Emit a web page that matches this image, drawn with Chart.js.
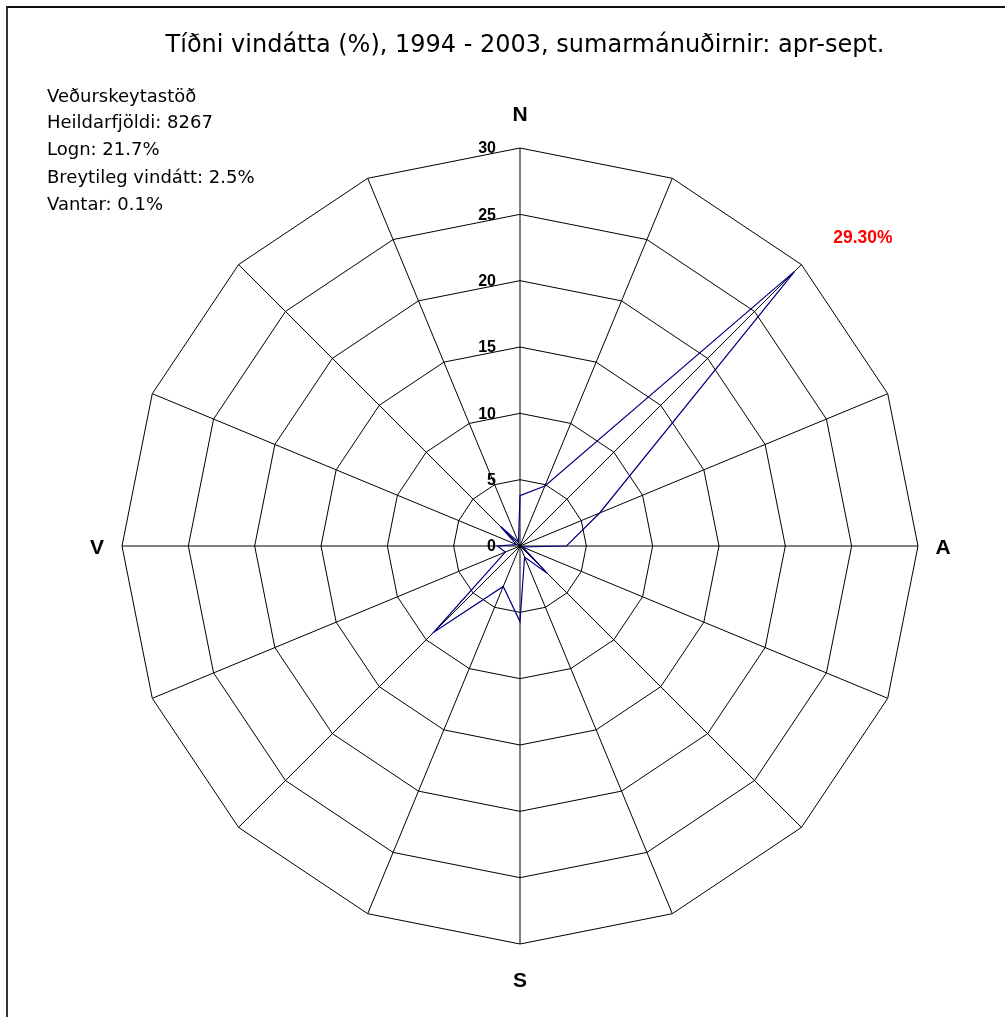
<!DOCTYPE html>
<html>
<head>
<meta charset="utf-8">
<script src="https://cdn.jsdelivr.net/npm/chart.js@4/dist/chart.umd.min.js"></script>
<style>
    html, body { margin: 0; padding: 0; background: #fff; }
    #wrap { position: relative; width: 1005px; height: 1017px; overflow: hidden; }
    #frame { position: absolute; left: 6px; top: 6px; width: 1100px; height: 1100px;
             border-left: 2px solid #333; border-top: 2px solid #111; }
    #graph { position: absolute; left: 0; top: 0; }
    .txt { position: absolute; font-family: "DejaVu Sans", Verdana, sans-serif; color: #000; white-space: nowrap; }
    #title { left: 0; width: 1050px; top: 32px; line-height: 24px; text-align: center; font-size: 24px; }
    .info { left: 47px; font-size: 18px; }
</style>
</head>
<body>
<div id="wrap">
    <div id="frame"></div>
    <canvas id="graph" width="1005" height="1017"></canvas>
    <div id="title" class="txt">Tíðni vindátta (%), 1994 - 2003, sumarmánuðirnir: apr-sept.</div>
    <div id="info"></div>
</div>
<script>
'use strict';

const directions = ['N', 'NNA', 'NA', 'ANA', 'A', 'ASA', 'SA', 'SSA', 'S', 'SSV', 'SV', 'VSV', 'V', 'VNV', 'NV', 'NNV'];
const dirLabels = ['N', '', '', '', 'A', '', '', '', 'S', '', '', '', 'V', '', '', ''];
const frequency = [3.8, 4.9, 29.3, 6.5, 3.5, 0.2, 2.9, 0.9, 5.7, 3.3, 9.2, 1.2, 1.7, 0.3, 2.1, 0.3];
const tickValues = [0, 5, 10, 15, 20, 25, 30];
const tickLabels = ['0', '5', '10', '15', '20', '25', '30'];
const infoLines = ['Veðurskeytastöð', 'Heildarfjöldi: 8267', 'Logn: 21.7%', 'Breytileg vindátt: 2.5%', 'Vantar: 0.1%'];
const infoTops = [85, 111, 138, 166, 193];
const peakLabel = '29.30%';

const info = document.getElementById('info');
infoLines.forEach((line, i) => {
    const d = document.createElement('div');
    d.className = 'txt info';
    d.style.top = infoTops[i] + 'px';
    d.textContent = line;
    info.appendChild(d);
});

const roseLabels = {
    id: 'roseLabels',
    afterDraw(chart) {
        const r = chart.scales.r;
        const ctx = chart.ctx;
        ctx.save();
        ctx.fillStyle = '#000';
        ctx.textBaseline = 'middle';

        // value labels to the left of the north spoke
        ctx.font = 'bold 16px "Liberation Sans", Arial, sans-serif';
        ctx.textAlign = 'right';
        tickValues.forEach((v, i) => {
            const y = r.yCenter - r.getDistanceFromCenterForValue(v);
            ctx.fillText(tickLabels[i], r.xCenter - 24, y + 1);
        });

        // compass letters
        ctx.font = 'bold 21px "Liberation Sans", Arial, sans-serif';
        ctx.textAlign = 'center';
        dirLabels.forEach((d, i) => {
            if (!d) return;
            const off = (i % 8 === 0) ? 35 : 25;
            const p = r.getPointPosition(i, r.drawingArea + off);
            ctx.fillText(d, p.x, p.y + 2);
        });

        // largest value
        const top = frequency.indexOf(Math.max(...frequency));
        const p = r.getPointPosition(top, r.getDistanceFromCenterForValue(frequency[top]));
        ctx.font = 'bold 17.5px "Liberation Sans", Arial, sans-serif';
        ctx.fillStyle = '#ff0000';
        ctx.fillText(peakLabel, p.x + 68, p.y - 33);
        ctx.restore();
    }
};

const ctx = document.getElementById('graph').getContext('2d');
new Chart(ctx, {
    type: 'radar',
    data: {
        labels: directions,
        datasets: [{
            data: frequency,
            borderColor: '#000080',
            borderWidth: 1.2,
            fill: false,
            pointRadius: 0,
            tension: 0
        }]
    },
    options: {
        responsive: false,
        animation: false,
        layout: {
            padding: { left: 122, right: 87, top: 148, bottom: 73 }
        },
        plugins: {
            legend: { display: false },
            tooltip: { enabled: false }
        },
        scales: {
            r: {
                min: 0,
                max: 30,
                ticks: { stepSize: 5, display: false },
                grid: { color: '#000', lineWidth: 1 },
                angleLines: { color: '#000', lineWidth: 1 },
                pointLabels: { display: false }
            }
        }
    },
    plugins: [roseLabels]
});
</script>
</body>
</html>
